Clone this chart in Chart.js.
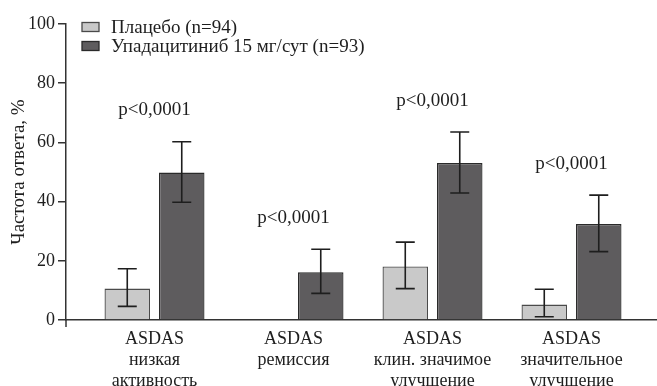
<!DOCTYPE html>
<html>
<head>
<meta charset="utf-8">
<script src="https://cdn.jsdelivr.net/npm/chart.js@4/dist/chart.umd.min.js"></script>
<style>
  html, body { margin: 0; padding: 0; background: #fff; }
  #wrap { width: 657px; height: 386px; position: relative; }
</style>
</head>
<body>
<div id="wrap"><canvas id="c" width="657" height="386"></canvas></div>
<script>
// ---- data ----
const categories = [
  ["ASDAS", "низкая", "активность"],
  ["ASDAS", "ремиссия"],
  ["ASDAS", "клин. значимое", "улучшение"],
  ["ASDAS", "значительное", "улучшение"]
];
const seriesNames = ["Плацебо (n=94)", "Упадацитиниб 15 мг/сут (n=93)"];
const placebo = [10.6, 0, 18.1, 5.2];
const placeboLow = [4.6, null, 10.6, 1.1];
const placeboHigh = [17.3, null, 26.3, 10.4];
const upa = [49.8, 16.1, 53.0, 32.4];
const upaLow = [39.8, 9.0, 42.9, 23.1];
const upaHigh = [60.2, 23.9, 63.5, 42.2];
const pLabels = ["p<0,0001", "p<0,0001", "p<0,0001", "p<0,0001"];
const yTicks = [0, 20, 40, 60, 80, 100];
const yTitle = "Частота ответа, %";

const FONT = "'Liberation Serif', 'Times New Roman', serif";
const TXT = "#1e1e1e";
const AXIS = "#333333";
const colors = [
  { fill: "#c9c9c9", border: "#4a4a4a" },
  { fill: "#5e5c5e", border: "#2a2a2a" }
];

const lows = [placeboLow, upaLow];
const highs = [placeboHigh, upaHigh];

const errorBars = {
  id: "errorBars",
  afterDatasetsDraw(chart) {
    const ctx = chart.ctx, y = chart.scales.y;
    ctx.save();
    ctx.strokeStyle = "#1e1e1e";
    ctx.lineWidth = 1.6;
    chart.data.datasets.forEach((ds, di) => {
      const meta = chart.getDatasetMeta(di);
      meta.data.forEach((bar, i) => {
        const lo = lows[di][i], hi = highs[di][i];
        if (lo == null || hi == null) return;
        const x = bar.x, y1 = y.getPixelForValue(lo), y2 = y.getPixelForValue(hi);
        ctx.beginPath();
        ctx.moveTo(x, y1); ctx.lineTo(x, y2);
        ctx.moveTo(x - 9.5, y1); ctx.lineTo(x + 9.5, y1);
        ctx.moveTo(x - 9.5, y2); ctx.lineTo(x + 9.5, y2);
        ctx.stroke();
      });
    });
    ctx.restore();
  }
};

const annotations = {
  id: "annotations",
  afterDraw(chart) {
    const ctx = chart.ctx, xs = chart.scales.x, ys = chart.scales.y, ca = chart.chartArea;
    ctx.save();
    // p-values
    ctx.font = "19px " + FONT;
    ctx.fillStyle = TXT;
    ctx.textAlign = "center";
    ctx.textBaseline = "middle";
    pLabels.forEach((t, i) => {
      const top = Math.max(...highs.map(h => h[i] == null ? 0 : h[i]));
      ctx.fillText(t, xs.getPixelForValue(i + 1), ys.getPixelForValue(top) - 31.5);
    });
    // y-axis extension below the x axis
    ctx.strokeStyle = AXIS;
    ctx.lineWidth = 1.5;
    ctx.beginPath();
    ctx.moveTo(ca.left, ca.bottom);
    ctx.lineTo(ca.left, ca.bottom + 7);
    ctx.stroke();
    // legend
    ctx.textAlign = "left";
    chart.data.datasets.forEach((ds, i) => {
      const cy = 27 + i * 19;
      ctx.fillStyle = ds.backgroundColor;
      ctx.fillRect(82, cy - 4.5, 17, 9);
      ctx.strokeStyle = ds.borderColor;
      ctx.lineWidth = 1.3;
      ctx.strokeRect(82, cy - 4.5, 17, 9);
      ctx.fillStyle = TXT;
      ctx.fillText(ds.label, 111, cy + 1);
    });
    ctx.restore();
  }
};

const mk = (vals) => vals.map((v, i) => ({ x: i + 1, y: v }));

new Chart(document.getElementById("c"), {
  type: "bar",
  data: {
    datasets: [
      { label: seriesNames[0], data: mk(placebo), backgroundColor: colors[0].fill, borderColor: colors[0].border, borderWidth: 1.3 },
      { label: seriesNames[1], data: mk(upa), backgroundColor: colors[1].fill, borderColor: colors[1].border, borderWidth: 1.3 }
    ]
  },
  options: {
    responsive: false,
    animation: false,
    devicePixelRatio: 1,
    categoryPercentage: 0.784,
    barPercentage: 0.835,
    layout: { padding: { top: 24, right: 0, bottom: 0, left: 0 } },
    plugins: { legend: { display: false }, tooltip: { enabled: false } },
    scales: {
      x: {
        type: "linear",
        offset: false,
        min: 0.3633,
        max: 4.615,
        afterBuildTicks: (s) => { s.ticks = categories.map((c, i) => ({ value: i + 1 })); },
        afterFit: (s) => { s.height = 66; },
        grid: { display: false },
        border: { display: true, color: AXIS, width: 1.5 },
        ticks: {
          autoSkip: false,
          maxRotation: 0,
          padding: 1,
          color: TXT,
          font: { family: FONT, size: 18, lineHeight: 1.16 },
          callback: (v) => categories[Math.round(v) - 1] || ""
        }
      },
      y: {
        min: 0,
        max: 100,
        afterBuildTicks: (s) => { s.ticks = yTicks.map(v => ({ value: v })); },
        afterFit: (s) => { s.width = 66; },
        grid: { drawOnChartArea: false, drawTicks: true, tickLength: 8, color: AXIS, lineWidth: 1.5 },
        border: { display: true, color: AXIS, width: 1.5 },
        ticks: { padding: 3, color: TXT, font: { family: FONT, size: 18 } },
        title: { display: true, text: yTitle, color: TXT, font: { family: FONT, size: 19 }, padding: { top: 8, bottom: 0 } }
      }
    }
  },
  plugins: [errorBars, annotations]
});
</script>
</body>
</html>
